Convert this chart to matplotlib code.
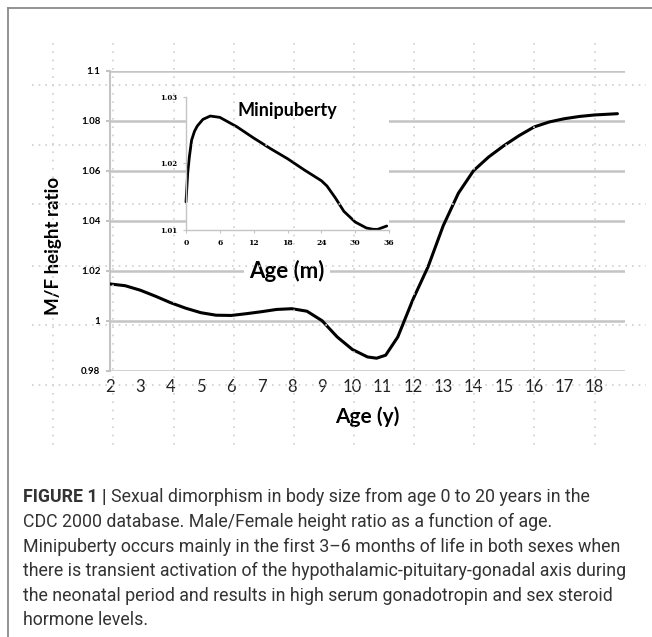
import matplotlib.pyplot as plt
from matplotlib.lines import Line2D

# main curve: M/F height ratio by age (years)
age_y = [2.0, 2.5, 3.0, 3.5, 4.0, 4.5, 5.0, 5.5, 6.0, 6.5, 7.0, 7.5, 8.0, 8.5,
         9.0, 9.5, 10.0, 10.5, 10.8, 11.1, 11.5, 12.0, 12.5, 13.0, 13.5, 14.0,
         14.5, 15.0, 15.5, 16.0, 16.5, 17.0, 17.5, 18.0, 18.75]
ratio_y = [1.0147, 1.0140, 1.0122, 1.0098, 1.0072, 1.0050, 1.0032, 1.0022, 1.0021,
           1.0028, 1.0036, 1.0045, 1.0048, 1.0038, 1.0000, 0.9935, 0.9885, 0.9855,
           0.9850, 0.9862, 0.9935, 1.0085, 1.0216, 1.0380, 1.0510, 1.0600, 1.0655,
           1.0700, 1.0740, 1.0775, 1.0795, 1.0808, 1.0817, 1.0823, 1.0828]

# inset: minipuberty, age in months
age_m = [0.0, 0.3, 0.6, 1.0, 1.5, 2.0, 3.0, 4.3, 6.0, 9.0, 12.0, 15.0, 18.0, 21.0,
         24.0, 25.0, 26.5, 28.0, 30.0, 32.0, 33.2, 34.0, 35.6]
ratio_m = [1.0142, 1.0185, 1.0210, 1.0235, 1.0248, 1.0256, 1.0266, 1.0271, 1.0269,
           1.0255, 1.0238, 1.0222, 1.0207, 1.0190, 1.0174, 1.0166, 1.0148, 1.0128,
           1.0112, 1.0103, 1.0101, 1.0101, 1.0106]

y_ticks = [0.98, 1.0, 1.02, 1.04, 1.06, 1.08, 1.1]
y_tick_labels = ['0.98', '1', '1.02', '1.04', '1.06', '1.08', '1.1']
x_ticks = list(range(2, 19))
m_ticks = [0, 6, 12, 18, 24, 30, 36]
m_y_ticks = [1.01, 1.02, 1.03]

caption = [
    'Sexual dimorphism in body size from age 0 to 20 years in the',
    'CDC 2000 database. Male/Female height ratio as a function of age.',
    'Minipuberty occurs mainly in the first 3\u20136 months of life in both sexes when',
    'there is transient activation of the hypothalamic-pituitary-gonadal axis during',
    'the neonatal period and results in high serum gonadotropin and sex steroid',
    'hormone levels.',
]

W, H = 652, 637
fig = plt.figure(figsize=(W / 100, H / 100), dpi=100)
fig.patch.set_facecolor('white')

grid_col = '#c4c4c4'
font = 'Lato'

# main chart
ax = fig.add_axes([110 / W, 1 - 370.7 / H, 515 / W, 300 / H], zorder=0)
ax.set_xlim(2, 19.0)
ax.set_ylim(0.98, 1.1)
for s in ['top', 'right', 'bottom']:
    ax.spines[s].set_visible(False)
ax.spines['left'].set_color(grid_col)
ax.spines['left'].set_linewidth(1.5)
ax.set_yticks(y_ticks)
ax.set_yticklabels(y_tick_labels, fontsize=7, fontweight='bold', family=font)
ax.set_xticks(x_ticks)
ax.set_xticklabels([str(t) for t in x_ticks], fontsize=12, family=font, color='#222222')
ax.tick_params(axis='y', length=3, color=grid_col, width=1.5, pad=4)
ax.tick_params(axis='x', length=0, pad=6)
ax.yaxis.grid(True, color=grid_col, lw=1.8)
ax.set_axisbelow(True)
ax.plot(age_y, ratio_y, color='black', lw=2.2, solid_capstyle='round', zorder=3)
ax.set_xlabel('Age (y)', fontsize=15, fontweight='bold', family=font, labelpad=8)
ax.set_ylabel('M/F height ratio', fontsize=13.5, fontweight='bold', family=font)
ax.yaxis.set_label_coords(-0.094, 0.415)

# inset with white background that masks the main gridlines
axi = fig.add_axes([186 / W, 1 - 230 / H, 203 / W, 133.3 / H], zorder=1)
axi.set_facecolor('white')
axi.set_xlim(0, 36)
axi.set_ylim(1.01, 1.03)
for s in ['top', 'right']:
    axi.spines[s].set_visible(False)
for s in ['left', 'bottom']:
    axi.spines[s].set_color(grid_col)
    axi.spines[s].set_linewidth(1.0)
axi.set_xticks(m_ticks)
axi.set_xticklabels([str(t) for t in m_ticks], fontsize=5.5, fontweight='bold', family='DejaVu Serif')
axi.set_yticks(m_y_ticks)
axi.set_yticklabels(['1.01', '1.02', '1.03'], fontsize=5, fontweight='bold', family='DejaVu Serif')
axi.tick_params(length=2.5, color=grid_col, pad=4)
axi.plot(age_m, ratio_m, color='black', lw=2.0, solid_capstyle='round', clip_on=False)
axi.text(0.5, 0.90, 'Minipuberty', transform=axi.transAxes, ha='center', va='center',
         fontsize=13, fontweight='bold', family=font)

# overlay: dotted background grid, frame, labels and caption in pixel coordinates
ov = fig.add_axes([0, 0, 1, 1], zorder=10)
ov.set_xlim(0, W)
ov.set_ylim(H, 0)
ov.axis('off')
ov.patch.set_visible(False)

# "Age (m)" label sits on the 1.02 line, masking it
ov.text(287, 271, 'Age (m)', ha='center', va='center', fontsize=16,
        fontweight='bold', family=font, zorder=1,
        bbox=dict(facecolor='white', edgecolor='none', pad=4))

dot_x = [53, 113, 174, 234, 294, 354, 414, 474, 534, 595]
dot_y = [85, 145, 204, 266, 325, 385]
for x in dot_x:
    ov.add_line(Line2D([x, x], [43, 447], color='#cfcfcf', lw=1.2, ls=(0, (1, 4)), zorder=2))
for y in dot_y:
    ov.add_line(Line2D([32, 646], [y, y], color='#cfcfcf', lw=1.2, ls=(0, (1, 3)), zorder=2))
ov.add_line(Line2D([8, 8], [8, H], color='#8a8a8a', lw=1.3))
ov.add_line(Line2D([8, W], [8, 8], color='#8a8a8a', lw=1.3))

# caption
cap_font = 'Roboto'
cap_size = 12.8
t0 = ov.text(23, 497, 'FIGURE 1 | ', fontsize=cap_size, fontweight='bold', family=cap_font,
             color='#333333', va='center')
ov.annotate(caption[0], xy=(1, 0.5), xycoords=t0, va='center', fontsize=cap_size,
            family=cap_font, color='#333333')
for i, line in enumerate(caption[1:]):
    ov.text(23, 522 + 24.6 * i, line, fontsize=cap_size, family=cap_font,
            color='#333333', va='center')

fig.savefig('out.png', dpi=100)
